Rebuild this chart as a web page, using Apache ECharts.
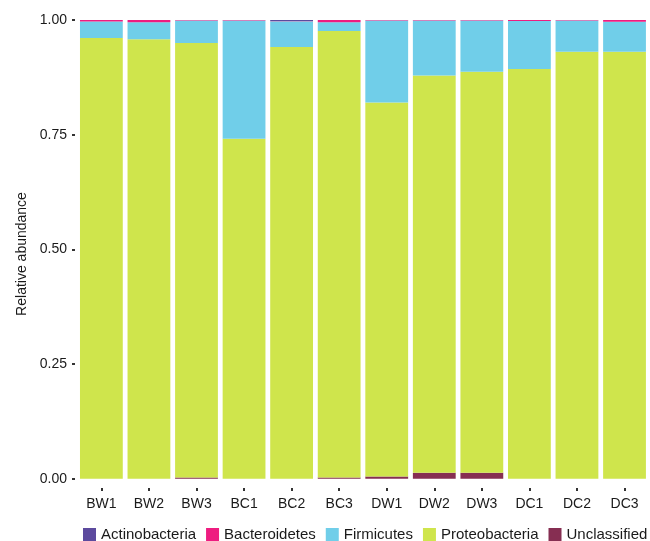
<!DOCTYPE html>
<html>
<head>
<meta charset="utf-8">
<script src="https://cdn.jsdelivr.net/npm/echarts@6/dist/echarts.min.js"></script>
<style>
  html, body { margin: 0; padding: 0; background: #fff; }
  #chart { width: 650px; height: 541px; }
</style>
</head>
<body>
<div id="chart"></div>
<script>
// Samples along the x axis
const categories = ['BW1', 'BW2', 'BW3', 'BC1', 'BC2', 'BC3', 'DW1', 'DW2', 'DW3', 'DC1', 'DC2', 'DC3'];

// Relative abundance of each phylum per sample
const unclassified   = [0, 0, 0.003, 0, 0, 0.003, 0.005, 0.013, 0.013, 0, 0, 0];
const proteobacteria = [0.961, 0.958, 0.947, 0.741, 0.941, 0.973, 0.815, 0.866, 0.874, 0.893, 0.931, 0.931];
const firmicutes     = [0.036, 0.037, 0.049, 0.258, 0.0565, 0.019, 0.179, 0.120, 0.112, 0.105, 0.068, 0.065];
const bacteroidetes  = [0.003, 0.005, 0.001, 0.001, 0.0005, 0.005, 0.001, 0.001, 0.001, 0.002, 0.001, 0.004];
const actinobacteria = [0, 0, 0, 0, 0.002, 0, 0, 0, 0, 0, 0, 0];

// Y tick labels
const yTicks = [0, 0.25, 0.5, 0.75, 1];

const palette = {
  Actinobacteria: '#5c4a9e',
  Bacteroidetes: '#ee1c80',
  Firmicutes: '#70cee9',
  Proteobacteria: '#cfe54c',
  Unclassified: '#862e52'
};

// bottom-to-top stacking order
const stackOrder = [
  ['Unclassified', unclassified],
  ['Proteobacteria', proteobacteria],
  ['Firmicutes', firmicutes],
  ['Bacteroidetes', bacteroidetes],
  ['Actinobacteria', actinobacteria]
];

const chart = echarts.init(document.getElementById('chart'), null, { renderer: 'canvas' });

const textColor = '#1a1a1a';
const font = 'Liberation Sans, Arial, sans-serif';

chart.setOption({
  animation: false,
  backgroundColor: '#ffffff',
  grid: { left: 77.6, right: 1.7, top: 20, bottom: 53, containLabel: false },
  legend: {
    data: ['Actinobacteria', 'Bacteroidetes', 'Firmicutes', 'Proteobacteria', 'Unclassified'],
    left: 83,
    top: 527,
    width: 600,
    itemWidth: 13,
    itemHeight: 13,
    itemGap: 10,
    icon: 'rect',
    padding: 0,
    textStyle: { fontFamily: font, fontSize: 15, color: textColor }
  },
  xAxis: {
    type: 'category',
    data: categories,
    axisLine: { show: false, onZero: false },
    axisTick: { show: true, alignWithLabel: true, length: 3, lineStyle: { color: '#333', width: 2 } },
    axisLabel: { margin: 9, fontFamily: font, fontSize: 14, color: textColor }
  },
  yAxis: {
    type: 'value',
    min: -0.02,
    max: 1,
    offset: 2.6,
    name: 'Relative abundance',
    nameLocation: 'middle',
    nameRotate: 90,
    nameGap: 45,
    nameTextStyle: { fontFamily: font, fontSize: 14, color: textColor },
    axisLine: { show: false },
    splitLine: { show: false },
    axisTick: { show: true, length: 3, customValues: yTicks, lineStyle: { color: '#333', width: 2 } },
    axisLabel: {
      margin: 8,
      customValues: yTicks,
      fontFamily: font,
      fontSize: 14,
      color: textColor,
      formatter: v => v.toFixed(2)
    }
  },
  series: stackOrder.map(([name, values]) => ({
    name,
    type: 'bar',
    stack: 'total',
    barCategoryGap: '10%',
    data: values,
    itemStyle: { color: palette[name] }
  }))
});
</script>
</body>
</html>
